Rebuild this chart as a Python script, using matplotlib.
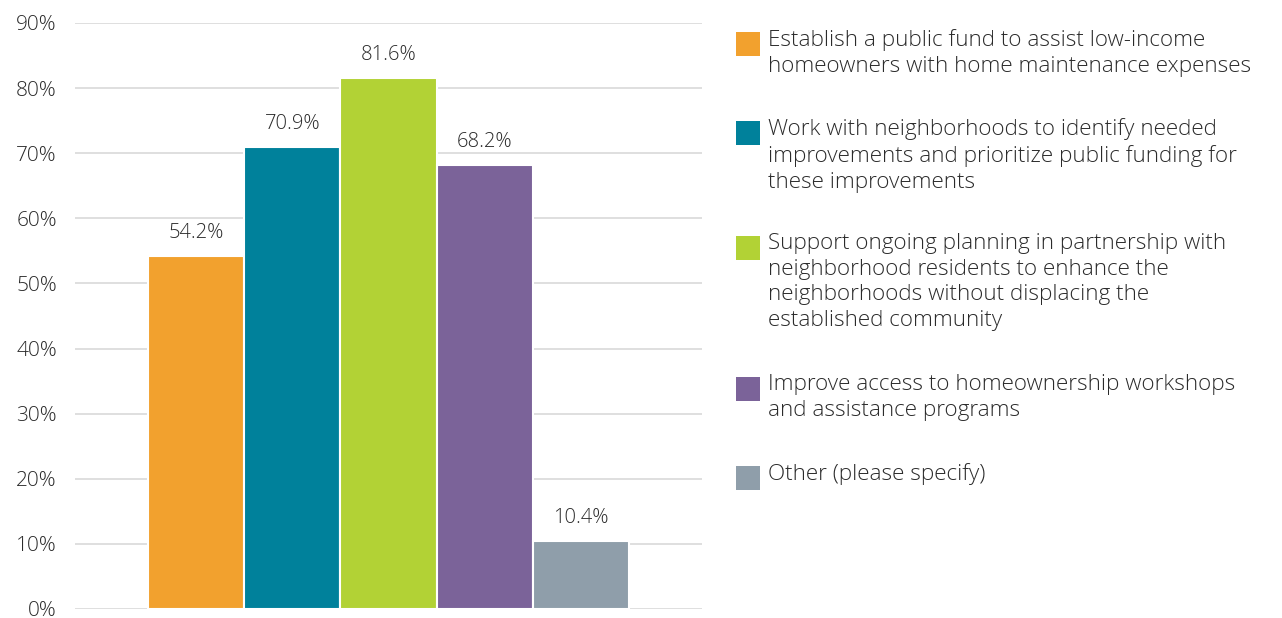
import matplotlib
matplotlib.use("Agg")
import matplotlib.pyplot as plt
from matplotlib.patches import Rectangle

plt.rcParams['font.family'] = ['Open Sans', 'DejaVu Sans']

# data
labels = [
    "Establish a public fund to assist low-income\nhomeowners with home maintenance expenses",
    "Work with neighborhoods to identify needed\nimprovements and prioritize public funding for\nthese improvements",
    "Support ongoing planning in partnership with\nneighborhood residents to enhance the\nneighborhoods without displacing the\nestablished community",
    "Improve access to homeownership workshops\nand assistance programs",
    "Other (please specify)",
]
values = [54.2, 70.9, 81.6, 68.2, 10.4]
colors = ["#F2A12E", "#00819B", "#B2D235", "#7B6399", "#8F9EAA"]
yticks = [0, 10, 20, 30, 40, 50, 60, 70, 80, 90]

txt = "#2b2b2b"

W, H = 1282, 618
fig = plt.figure(figsize=(W / 100, H / 100), dpi=100)
ax = fig.add_axes([75 / W, 1 - 609 / H, (702 - 75) / W, (609 - 23) / H])

x = range(len(values))
ax.bar(x, values, width=1.0, color=colors, edgecolor="white", linewidth=1.5, zorder=3)
for xi, v in zip(x, values):
    ax.text(xi, v + 2.0, f"{v:.1f}%", ha="center", va="bottom", fontsize=14.5,
            color=txt, fontweight="light")

ax.set_xlim(-1.26, 5.26)
ax.set_ylim(0, 90)
ax.set_yticks(yticks)
ax.set_yticklabels([f"{t}%" for t in yticks], fontsize=15, color=txt, fontweight="light")
ax.tick_params(axis="y", length=0, pad=13)
ax.set_xticks([])
ax.grid(axis="y", color="#d9d9d9", linewidth=1.2, zorder=0)
for s in ax.spines.values():
    s.set_visible(False)

# legend drawn by hand so the swatch sits on the first line
line_h = 26
gap = 37
y = 39
for lab, c in zip(labels, colors):
    n = lab.count("\n") + 1
    fig.patches.append(Rectangle((736 / W, 1 - (y + 17) / H), 24 / W, 24 / H,
                                 transform=fig.transFigure, facecolor=c, edgecolor="none"))
    fig.text(768 / W, 1 - (y - 10) / H, lab, ha="left", va="top", fontsize=16.2,
             color=txt, linespacing=1.29, fontweight="light")
    y += n * line_h + gap

fig.savefig("out.png", dpi=100)
